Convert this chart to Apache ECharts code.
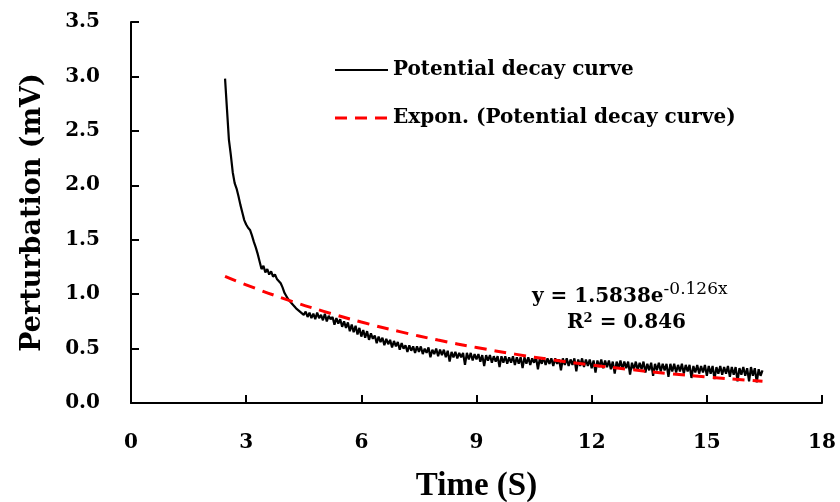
<!DOCTYPE html>
<html>
<head>
<meta charset="utf-8">
<title>Potential decay curve</title>
<script src="https://cdn.jsdelivr.net/npm/echarts@6/dist/echarts.min.js"></script>
<style>
  html, body { margin: 0; padding: 0; background: #fff; }
  #chart { width: 840px; height: 502px; }
</style>
</head>
<body>
<div id="chart"></div>
<script>
// Measured potential (mV), sampled every 0.05 s starting at 2.45 s
const sampleStart = 2.45;
const sampleStep = 0.05;
const decayValues = [
  // 2.45 – 4.50 s
  2.98, 2.70, 2.42, 2.28, 2.12, 2.02, 1.97, 1.90, 1.82, 1.75,
  1.68, 1.64, 1.61, 1.59, 1.54, 1.48, 1.43, 1.37, 1.30, 1.23,
  1.26, 1.20, 1.23, 1.18, 1.21, 1.16, 1.18, 1.14, 1.15, 1.10,
  1.06, 1.01, 1.00, 0.95, 0.95, 0.91, 0.92, 0.87, 0.88, 0.84,
  0.85, 0.81,
  // 4.55 – 7.45 s
  0.84, 0.79, 0.83, 0.78, 0.82, 0.77, 0.83, 0.78, 0.81, 0.76,
  0.82, 0.75, 0.80, 0.77, 0.79, 0.72, 0.78, 0.73, 0.77, 0.70,
  0.75, 0.69, 0.74, 0.66, 0.72, 0.65, 0.71, 0.63, 0.69, 0.61,
  0.67, 0.60, 0.66, 0.58, 0.64, 0.59, 0.62, 0.55, 0.61, 0.56,
  0.60, 0.53, 0.59, 0.54, 0.58, 0.51, 0.57, 0.52, 0.56, 0.49,
  0.55, 0.50, 0.53, 0.47, 0.53, 0.48, 0.52, 0.46, 0.52,
  // 7.50 – 11.60 s
  0.47, 0.52, 0.45, 0.50, 0.46, 0.51, 0.42, 0.49, 0.45, 0.50,
  0.43, 0.49, 0.44, 0.49, 0.42, 0.48, 0.38, 0.47, 0.42, 0.47,
  0.41, 0.46, 0.42, 0.46, 0.35, 0.46, 0.40, 0.46, 0.39, 0.45,
  0.40, 0.45, 0.38, 0.44, 0.34, 0.44, 0.39, 0.44, 0.37, 0.43,
  0.38, 0.43, 0.33, 0.43, 0.37, 0.43, 0.36, 0.42, 0.37, 0.43,
  0.35, 0.42, 0.36, 0.42, 0.32, 0.42, 0.36, 0.42, 0.35, 0.41,
  0.37, 0.42, 0.31, 0.41, 0.36, 0.42, 0.35, 0.41, 0.36, 0.41,
  0.34, 0.41, 0.36, 0.40, 0.30, 0.41, 0.35, 0.41, 0.34, 0.40,
  0.35, 0.41, 0.29,
  // 11.65 – 16.45 s
  0.40, 0.34, 0.41, 0.33, 0.40, 0.34, 0.40, 0.32, 0.39, 0.28,
  0.39, 0.33, 0.40, 0.32, 0.39, 0.33, 0.39, 0.31, 0.38, 0.27,
  0.38, 0.32, 0.39, 0.31, 0.38, 0.32, 0.38, 0.26, 0.37, 0.31,
  0.38, 0.30, 0.37, 0.31, 0.38, 0.28, 0.36, 0.30, 0.37, 0.25,
  0.36, 0.30, 0.37, 0.29, 0.36, 0.30, 0.36, 0.24, 0.36, 0.29,
  0.36, 0.28, 0.35, 0.29, 0.36, 0.27, 0.35, 0.29, 0.35, 0.23,
  0.34, 0.28, 0.35, 0.27, 0.34, 0.28, 0.35, 0.25, 0.34, 0.27,
  0.34, 0.22, 0.33, 0.27, 0.34, 0.26, 0.33, 0.27, 0.34, 0.24,
  0.33, 0.26, 0.33, 0.20, 0.32, 0.26, 0.33, 0.25, 0.32, 0.20,
  0.33, 0.25, 0.32, 0.19, 0.31, 0.25, 0.30
];

// Exponential trendline y = 1.5838e^(-0.126x), tabulated
const trendTimes  = [2.45, 3, 4, 5, 6, 7, 8, 9, 10, 11, 12, 13, 14, 15, 16, 16.45];
const trendValues = [1.163, 1.085, 0.957, 0.844, 0.744, 0.656, 0.578, 0.510, 0.449, 0.396, 0.349, 0.308, 0.271, 0.239, 0.211, 0.199];

// Axis ticks
const xTicks = [0, 3, 6, 9, 12, 15, 18];
const yTicks = [0.0, 0.5, 1.0, 1.5, 2.0, 2.5, 3.0, 3.5];

const seriesNames = ['Potential decay curve', 'Expon. (Potential decay curve)'];

const decayData = decayValues.map((v, i) => [+(sampleStart + i * sampleStep).toFixed(2), v]);
const trendData = trendTimes.map((t, i) => [t, trendValues[i]]);

const serif = '"DejaVu Serif", serif';
const chart = echarts.init(document.getElementById('chart'), null, { renderer: 'canvas' });

// Hand-built legend: line sample + label per series
function legendEntry(y, name, lineStyle) {
  return {
    type: 'group',
    children: [
      { type: 'line', shape: { x1: 335, y1: y, x2: 388, y2: y }, style: lineStyle },
      {
        type: 'text', x: 393, y: y,
        style: { text: name, fontFamily: serif, fontWeight: 'bold', fontSize: 20, fill: '#000', verticalAlign: 'middle' }
      }
    ]
  };
}

chart.setOption({
  animation: false,
  backgroundColor: '#ffffff',
  grid: { left: 131, right: 18, top: 22, bottom: 99, containLabel: false, outerBoundsMode: 'none' },
  xAxis: {
    type: 'value',
    min: xTicks[0],
    max: xTicks[xTicks.length - 1],
    interval: 3,
    name: 'Time (S)',
    nameLocation: 'middle',
    nameGap: 67,
    nameTextStyle: { fontFamily: '"Liberation Serif", serif', fontWeight: 'bold', fontSize: 33, color: '#000' },
    axisLine: { lineStyle: { color: '#000', width: 2 } },
    axisTick: { inside: true, length: 8, lineStyle: { color: '#000', width: 2 } },
    axisLabel: { margin: 30, fontFamily: serif, fontWeight: 'bold', fontSize: 20, color: '#000' },
    splitLine: { show: false }
  },
  yAxis: {
    type: 'value',
    min: yTicks[0],
    max: yTicks[yTicks.length - 1],
    interval: 0.5,
    name: 'Perturbation (mV)',
    nameLocation: 'middle',
    nameGap: 85,
    nameTextStyle: { fontFamily: serif, fontWeight: 'bold', fontSize: 27, color: '#000' },
    axisLine: { lineStyle: { color: '#000', width: 2 } },
    axisTick: { inside: true, length: 8, lineStyle: { color: '#000', width: 2 } },
    axisLabel: {
      margin: 31,
      fontFamily: serif, fontWeight: 'bold', fontSize: 20, color: '#000',
      formatter: v => v.toFixed(1)
    },
    splitLine: { show: false }
  },
  series: [
    {
      name: seriesNames[0],
      type: 'line',
      data: decayData,
      symbol: 'none',
      z: 2,
      lineStyle: { color: '#000', width: 2.2 }
    },
    {
      name: seriesNames[1],
      type: 'line',
      data: trendData,
      symbol: 'none',
      smooth: true,
      z: 3,
      lineStyle: { color: '#ff0000', width: 3, type: [12, 8] }
    }
  ],
  graphic: [
    legendEntry(70, seriesNames[0], { stroke: '#000', lineWidth: 2 }),
    legendEntry(118, seriesNames[1], { stroke: '#ff0000', lineWidth: 3, lineDash: [12, 8] }),
    {
      type: 'text',
      x: 532, y: 297,
      style: {
        text: '{m|y = 1.5838e}{s|-0.126x}',
        verticalAlign: 'middle',
        rich: {
          m: { fontFamily: serif, fontWeight: 'bold', fontSize: 20, fill: '#000' },
          s: { fontFamily: serif, fontSize: 17, fill: '#000', padding: [0, 0, 14, 0] }
        }
      }
    },
    {
      type: 'text',
      x: 567, y: 323,
      style: {
        text: '{m|R}{s|2}{m| = 0.846}',
        verticalAlign: 'middle',
        rich: {
          m: { fontFamily: serif, fontWeight: 'bold', fontSize: 20, fill: '#000' },
          s: { fontFamily: serif, fontWeight: 'bold', fontSize: 13, fill: '#000', padding: [0, 0, 9, 0] }
        }
      }
    }
  ]
});
</script>
</body>
</html>
